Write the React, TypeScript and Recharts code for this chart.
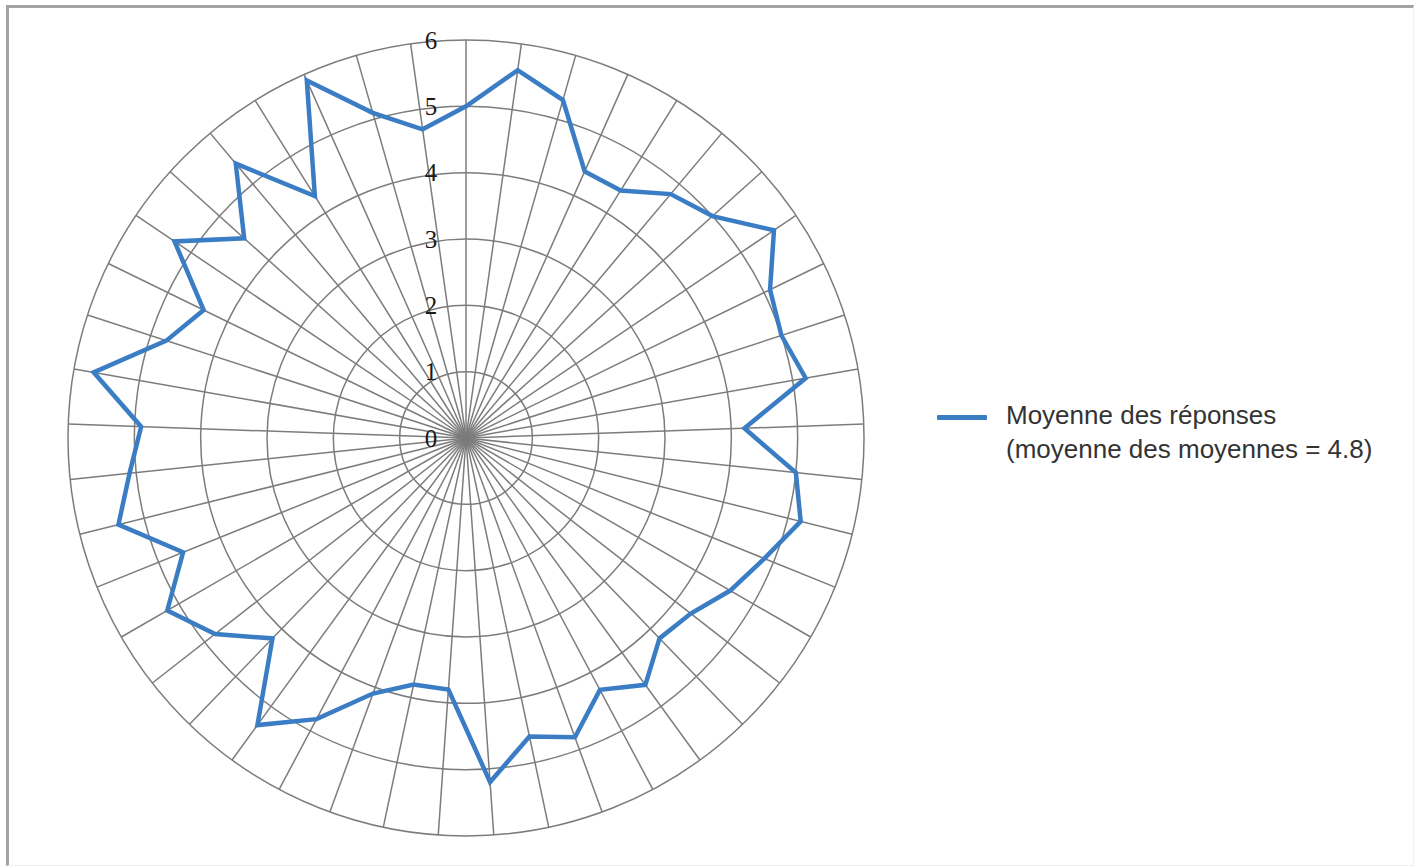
import {
	Legend,
	PolarAngleAxis,
	PolarGrid,
	PolarRadiusAxis,
	Radar,
	RadarChart,
} from "recharts";

// 45 questions, clockwise from the top
const questions = Array.from({ length: 45 }, (_, i) => `Q${i + 1}`);

const moyennes = [
	5.0, 5.6, 5.3, 4.4, 4.4, 4.8, 5.0, 5.6, 5.1, 5.0, 5.2, 4.2, 5.0, 5.2, 4.85,
	4.6, 4.3, 4.2, 4.6, 4.3, 4.8, 4.6, 5.2, 3.8, 3.8, 4.1, 4.8, 5.35, 4.2, 4.8,
	5.2, 4.6, 5.4, 5.1, 4.9, 5.7, 4.75, 4.4, 5.3, 4.5, 5.4, 4.3, 5.9, 5.1, 4.7,
];

const radiusTicks = [0, 1, 2, 3, 4, 5, 6];

const seriesName = "Moyenne des réponses";
const seriesNote = "(moyenne des moyennes = 4.8)";

const data = questions.map((q, i) => ({ question: q, moyenne: moyennes[i] }));

const BLUE = "#3b7dc4";

const RadiusTick = (props: any) => {
	const { x, y, payload } = props;
	return (
		<text
			x={x - 35}
			y={y}
			textAnchor="middle"
			dominantBaseline="central"
			fontFamily="'Liberation Serif', 'Times New Roman', serif"
			fontSize={25}
			fill="#1a1a1a">
			{payload.value}
		</text>
	);
};

const LegendContent = () => (
	<div style={{ display: "flex", alignItems: "flex-start" }}>
		<div
			style={{
				width: 50,
				height: 5,
				background: BLUE,
				marginTop: 17,
				marginRight: 19,
				borderRadius: 1,
			}}
		/>
		<div
			style={{
				fontFamily: "'Liberation Sans', Arial, sans-serif",
				fontSize: 26,
				lineHeight: "34px",
				color: "#333",
			}}>
			<div>{seriesName}</div>
			<div>{seriesNote}</div>
		</div>
	</div>
);

export default function App() {
	return (
		<div
			style={{
				position: "absolute",
				left: 0,
				top: 0,
				width: 1414,
				height: 866,
				background: "#fff",
				overflow: "hidden",
			}}>
			<div
				style={{
					position: "absolute",
					left: 6,
					top: 5,
					width: 1414 - 6 - 3 - 1,
					height: 866 - 5 - 3 - 1,
					borderTop: "3px solid #a3a3a3",
					borderLeft: "3px solid #a3a3a3",
					borderRight: "1px solid #f0f0f0",
					borderBottom: "1px solid #f0f0f0",
				}}
			/>
			<RadarChart
				width={1414}
				height={866}
				data={data}
				cx={466}
				cy={438}
				outerRadius={398}
				style={{ position: "absolute", left: 0, top: 0 }}>
				<PolarGrid gridType="circle" stroke="#7c7c7c" strokeWidth={1.5} />
				<PolarAngleAxis dataKey="question" tick={false} axisLine={false} tickLine={false} />
				<PolarRadiusAxis
					angle={90}
					domain={[0, 6]}
					ticks={radiusTicks}
					tickCount={7}
					axisLine={false}
					tickLine={false}
					tick={<RadiusTick />}
				/>
				<Radar
					name={seriesName}
					dataKey="moyenne"
					stroke={BLUE}
					strokeWidth={4.5}
					strokeLinejoin="miter"
					fill="none"
					fillOpacity={0}
					dot={false}
					isAnimationActive={false}
				/>
				<Legend
					content={<LegendContent />}
					wrapperStyle={{ position: "absolute", left: 937, top: 398, width: 470 }}
				/>
			</RadarChart>
		</div>
	);
}
